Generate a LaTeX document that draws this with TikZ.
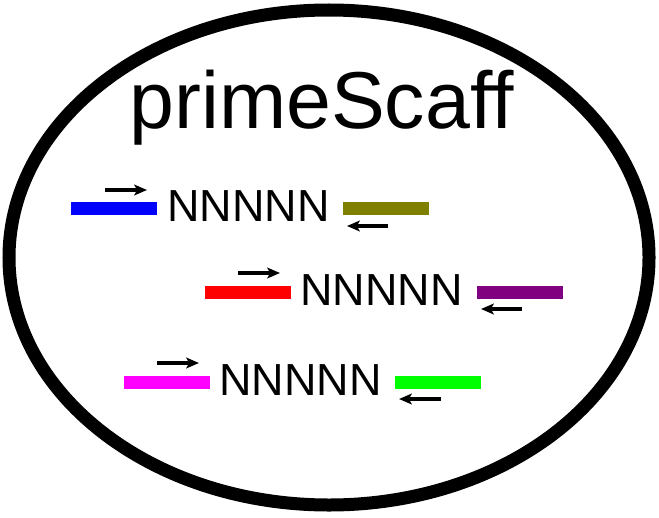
\documentclass[tikz,border=0pt]{standalone}
\usepackage{fontspec}
\setmainfont{Liberation Sans}
\usepackage{tikz}
\usetikzlibrary{arrows.meta}
\definecolor{ReadBlue}{RGB}{0,0,255}
\definecolor{ReadOlive}{RGB}{128,128,0}
\definecolor{ReadRed}{RGB}{255,0,0}
\definecolor{ReadPurple}{RGB}{128,0,128}
\definecolor{ReadMagenta}{RGB}{255,0,255}
\definecolor{ReadGreen}{RGB}{0,255,0}

\begin{document}
\begin{tikzpicture}[
  x=0.75pt, y=-0.75pt,
  bar/.style={rectangle, inner sep=0pt, minimum width=64.5pt, minimum height=9.75pt},
  gap/.style={anchor=base west, inner sep=0pt, font=\fontsize{33.7}{38}\selectfont},
  primer/.style={line width=2.7pt, -{Stealth[length=9.5pt, width=8pt, inset=2pt]}},
]
\useasboundingbox (0,0) rectangle (659,517);
\draw[line width=9.75pt] (329,257.5) ellipse [x radius=320, y radius=247.5];
\node[anchor=base, inner sep=0pt, font=\fontsize{60.5}{66}\selectfont] (title) at (321.5,128) {primeScaff};
% scaffold 1
\node[bar, fill=ReadBlue] (l1) at (114,208.5) {};
\node[gap] (g1) at (167,221) {NNNNN};
\node[bar, fill=ReadOlive] (r1) at (386,208.5) {};
\draw[primer] (105,190) -- (147,190);
\draw[primer] (388,226) -- (347,226);
% scaffold 2
\node[bar, fill=ReadRed] (l2) at (248,292) {};
\node[gap] (g2) at (300,305) {NNNNN};
\node[bar, fill=ReadPurple] (r2) at (520,292) {};
\draw[primer] (238,273) -- (280,273);
\draw[primer] (522,309) -- (481,309);
% scaffold 3
\node[bar, fill=ReadMagenta] (l3) at (166.5,382) {};
\node[gap] (g3) at (219,395) {NNNNN};
\node[bar, fill=ReadGreen] (r3) at (438,382) {};
\draw[primer] (157,363) -- (199,363);
\draw[primer] (441,399) -- (399,399);
\end{tikzpicture}
\end{document}
